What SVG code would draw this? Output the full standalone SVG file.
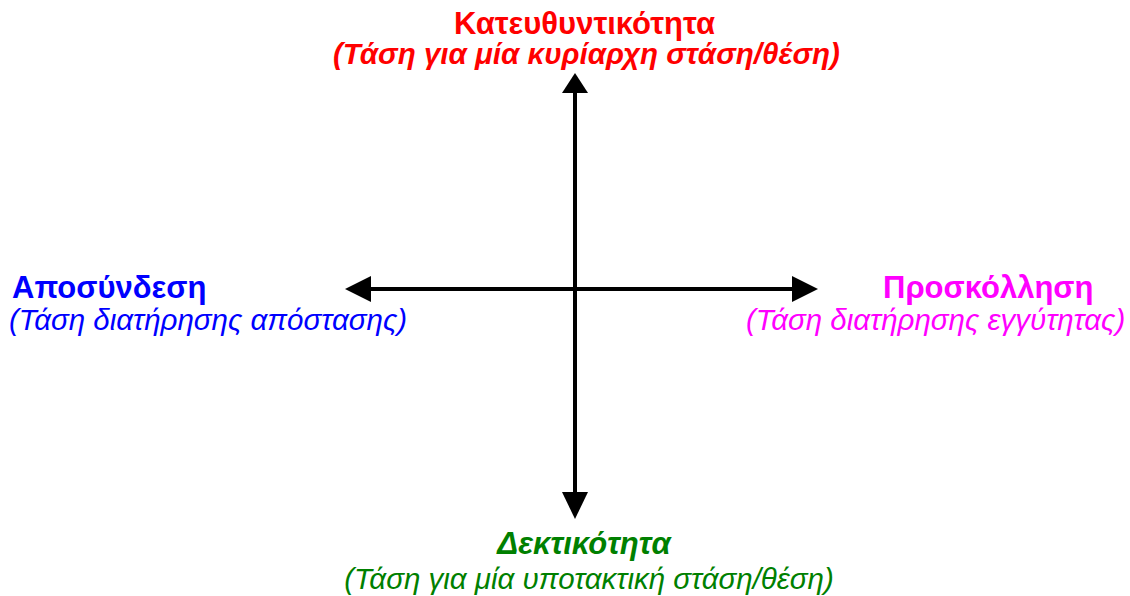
<svg xmlns="http://www.w3.org/2000/svg" width="1130" height="596" viewBox="0 0 1130 596">
<style>
text{font-family:"Liberation Sans",Arial,sans-serif}
.t{font-size:31px;font-weight:bold}
.s{font-size:29.5px;font-style:italic}
.ax{stroke:#000;stroke-width:4;fill:none}
.ah{fill:#000}
</style>
<rect width="1130" height="596" fill="#fff"/>
<g id="connectors">
<line class="ax" x1="575" y1="90" x2="575" y2="495"/>
<polygon class="ah" points="575,73 562,93 588,93"/>
<polygon class="ah" points="575,519 562,492 588,492"/>
<line class="ax" x1="368" y1="289" x2="795" y2="289"/>
<polygon class="ah" points="345,289 371,276 371,302"/>
<polygon class="ah" points="818,289 792,276 792,302"/>
</g>
<g id="node-top" fill="#ff0000">
<text class="t" x="584.5" y="34" text-anchor="middle" font-size="32.5">Κατευθυντικότητα</text>
<text class="s" x="586.5" y="64" text-anchor="middle" font-weight="bold">(Τάση για μία κυρίαρχη στάση/θέση)</text>
</g>
<g id="node-left" fill="#0000ff">
<text class="t" x="12" y="298" font-size="31.3">Αποσύνδεση</text>
<text class="s" x="9" y="330">(Τάση διατήρησης απόστασης)</text>
</g>
<g id="node-right" fill="#ff00ff">
<text class="t" x="883" y="298" font-size="31.8">Προσκόλληση</text>
<text class="s" x="746" y="330" font-size="29">(Τάση διατήρησης εγγύτητας)</text>
</g>
<g id="node-bottom" fill="#008000">
<text class="t" x="584" y="554" text-anchor="middle" font-style="italic" font-size="31.6">Δεκτικότητα</text>
<text class="s" x="589" y="589" text-anchor="middle" font-size="30.5">(Τάση για μία υποτακτική στάση/θέση)</text>
</g>
</svg>
